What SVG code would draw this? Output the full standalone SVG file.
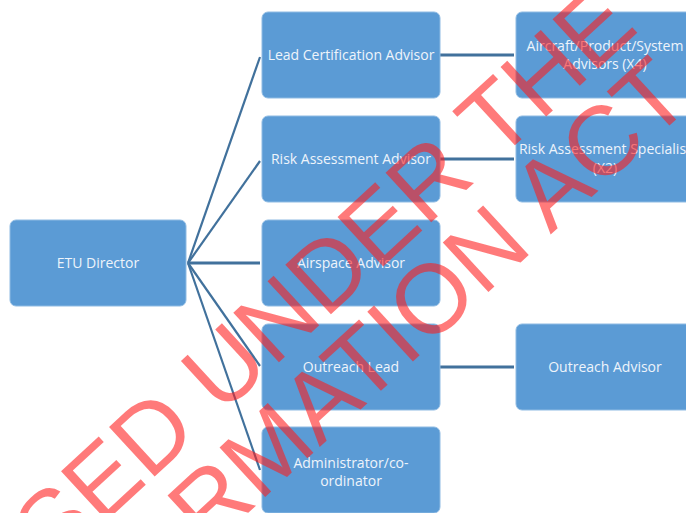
<svg xmlns="http://www.w3.org/2000/svg" width="686" height="513" viewBox="0 0 686 513">
<style>
.box{fill:#5b9bd5;stroke:#8fbbe3;stroke-width:1}
.lbl{font-family:"Open Sans","Noto Sans",sans-serif;font-size:14px;fill:#eef4fb;text-anchor:middle}
.con{stroke:#41719c;stroke-width:2.2;fill:none}
.conh{stroke:#41719c;stroke-width:3;fill:none}
.wm{font-family:"Liberation Sans",Arial,sans-serif;font-size:98px;fill:#ff1a1a;fill-opacity:0.58}
</style>
<rect width="686" height="513" fill="#ffffff"/>
<g id="connectors">
<line class="con" x1="188" y1="263" x2="260" y2="57"/>
<line class="con" x1="188" y1="263" x2="260" y2="161"/>
<line class="conh" x1="188" y1="263" x2="260" y2="263"/>
<line class="con" x1="188" y1="263" x2="260" y2="366"/>
<line class="con" x1="188" y1="263" x2="260" y2="470"/>
<line class="conh" x1="440" y1="55" x2="514" y2="55"/>
<line class="conh" x1="440" y1="159" x2="514" y2="159"/>
<line class="conh" x1="440" y1="367" x2="514" y2="367"/>
</g>
<g id="etu-director">
<rect class="box" x="10" y="220" width="176" height="86" rx="6"/>
<text class="lbl" x="98" y="268">ETU Director</text>
</g>
<g id="lead-certification-advisor">
<rect class="box" x="262" y="12" width="178" height="86" rx="6"/>
<text class="lbl" x="351" y="60">Lead Certification Advisor</text>
</g>
<g id="risk-assessment-advisor">
<rect class="box" x="262" y="116" width="178" height="86" rx="6"/>
<text class="lbl" x="351" y="164">Risk Assessment Advisor</text>
</g>
<g id="airspace-advisor">
<rect class="box" x="262" y="220" width="178" height="86" rx="6"/>
<text class="lbl" x="351" y="268">Airspace Advisor</text>
</g>
<g id="outreach-lead">
<rect class="box" x="262" y="324" width="178" height="86" rx="6"/>
<text class="lbl" x="351" y="372">Outreach Lead</text>
</g>
<g id="administrator-coordinator">
<rect class="box" x="262" y="427" width="178" height="86" rx="6"/>
<text class="lbl" x="351" y="468">Administrator/co-</text>
<text class="lbl" x="351" y="486">ordinator</text>
</g>
<g id="aircraft-product-system-advisors">
<rect class="box" x="516" y="12" width="178" height="86" rx="6"/>
<text class="lbl" x="605" y="51">Aircraft/Product/System</text>
<text class="lbl" x="605" y="69">Advisors (X4)</text>
</g>
<g id="risk-assessment-specialist">
<rect class="box" x="516" y="116" width="178" height="86" rx="6"/>
<text class="lbl" x="605" y="154">Risk Assessment Specialist</text>
<text class="lbl" x="605" y="173">(X2)</text>
</g>
<g id="outreach-advisor">
<rect class="box" x="516" y="324" width="178" height="86" rx="6"/>
<text class="lbl" x="605" y="372">Outreach Advisor</text>
</g>
<g id="watermark" transform="translate(-184,788) rotate(-42.6)">
<text class="wm" x="0" y="0">RELEASED UNDER THE</text>
<text class="wm" x="-250" y="90">OFFICIAL INFORMATION ACT</text>
</g>
</svg>
